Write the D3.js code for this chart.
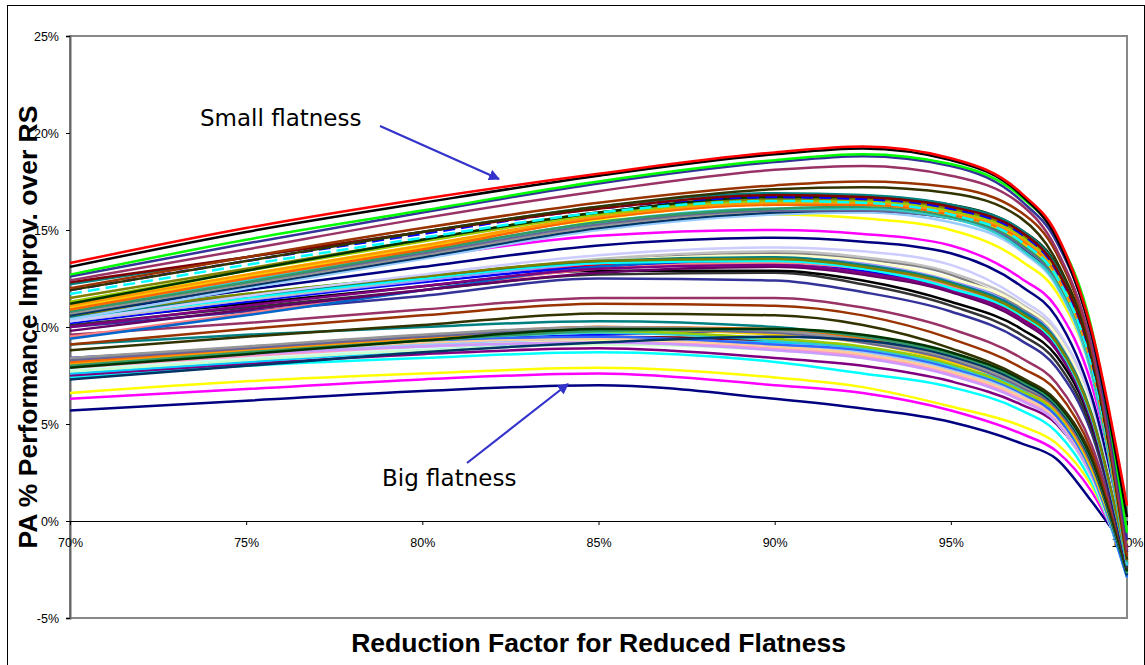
<!DOCTYPE html>
<html>
<head>
<meta charset="utf-8">
<script src="https://cdn.jsdelivr.net/npm/d3@7"></script>
<style>
  body { margin: 0; background: #fff; }
  svg { display: block; }
  .tick text { font-family: "Liberation Sans", Arial, sans-serif; font-size: 12.5px; fill: #000; }
  .axis-title { font-family: "Liberation Sans", Arial, sans-serif; font-size: 26.5px; font-weight: bold; }
  .note { font-family: "DejaVu Sans", Verdana, sans-serif; font-size: 23px; }
</style>
</head>
<body>
<div id="chart"></div>
<script>
// reduction factor (%) at which each curve was sampled
var reduction = [70, 75, 80, 85, 90, 92.5, 95, 97, 98, 99, 100];
var yTicks = [-5, 0, 5, 10, 15, 20, 25];
var xTicks = [70, 75, 80, 85, 90, 95, 100];

// big flatness (bottom curves)
var bottomCurves = [
    [5.7, 6.2, 6.7, 7.0, 6.3, 5.8, 5.1, 4.0, 3.2, 1.0, -1.5],
    [6.3, 6.8, 7.3, 7.6, 7.0, 6.6, 5.7, 4.5, 3.6, 1.5, -2.0],
    [6.6, 7.2, 7.6, 7.9, 7.4, 6.9, 5.9, 4.9, 4.0, 1.8, -2.2],
    [7.4, 8.0, 8.4, 8.7, 8.2, 7.6, 6.9, 5.7, 4.6, 2.0, -2.5]
];
var bottomColors = ["#000080", "#ff00ff", "#ffff00", "#00ffff"];

// lower bundle, about 9-10% around 85
var lowBundle = [
    [7.5, 8.1, 8.6, 8.9, 8.4, 8.0, 7.2, 6.0, 5.0, 2.3, -2.6],
    [8.0, 8.6, 9.1, 9.5, 9.3, 8.9, 7.9, 6.6, 5.4, 2.5, -2.4],
    [9.1, 9.6, 10.0, 10.3, 10.0, 9.4, 8.4, 7.1, 5.9, 2.8, -2.3],
    [8.4, 8.9, 9.3, 9.6, 9.8, 9.5, 8.6, 7.2, 5.8, 2.6, -2.8],
    [7.6, 8.2, 8.8, 9.3, 9.2, 8.9, 8.0, 6.8, 5.5, 2.4, -2.9],
    [7.8, 8.4, 8.9, 9.3, 9.0, 8.6, 7.8, 6.4, 5.2, 2.3, -2.7],
    [7.7, 8.3, 8.8, 9.1, 8.8, 8.4, 7.6, 6.3, 5.1, 2.2, -2.6],
    [7.9, 8.5, 9.0, 9.3, 9.0, 8.6, 7.7, 6.4, 5.2, 2.3, -2.7],
    [8.0, 8.6, 9.1, 9.4, 9.1, 8.7, 7.8, 6.5, 5.3, 2.4, -2.5],
    [7.9, 8.5, 9.0, 9.2, 8.9, 8.5, 7.6, 6.3, 5.2, 2.4, -2.5],
    [8.0, 8.6, 9.0, 9.2, 8.8, 8.4, 7.5, 6.2, 5.1, 2.3, -2.4],
    [8.1, 8.7, 9.2, 9.4, 9.0, 8.6, 7.7, 6.4, 5.3, 2.5, -2.3],
    [8.3, 8.8, 9.3, 9.5, 9.1, 8.8, 7.9, 6.6, 5.4, 2.5, -2.9],
    [8.0, 8.7, 9.3, 9.7, 9.3, 8.9, 8.0, 6.7, 5.6, 2.6, -2.7],
    [8.2, 8.8, 9.4, 9.8, 9.4, 9.0, 8.1, 6.7, 5.6, 2.7, -2.6],
    [8.1, 8.7, 9.3, 9.9, 9.6, 9.2, 8.2, 6.9, 5.7, 2.7, -2.5],
    [8.1, 8.8, 9.4, 10.0, 9.8, 9.3, 8.3, 6.9, 5.7, 2.8, -2.4],
    [8.2, 8.9, 9.5, 10.0, 9.9, 9.4, 8.4, 7.0, 5.8, 2.9, -2.3],
    [8.3, 8.9, 9.5, 9.9, 9.7, 9.2, 8.3, 6.9, 5.8, 2.9, -2.6],
    [8.4, 9.0, 9.6, 10.0, 9.8, 9.3, 8.4, 7.0, 5.9, 3.0, -2.5],
    [7.3, 8.0, 8.7, 9.2, 9.5, 9.3, 8.5, 7.1, 5.9, 3.0, -2.8],
    [8.0, 8.7, 9.3, 9.8, 9.9, 9.5, 8.6, 7.2, 6.0, 3.1, -2.7],
    [7.9, 8.6, 9.3, 9.9, 9.9, 9.6, 8.7, 7.3, 6.1, 3.2, -2.6]
];
var lowColors = ["#800080", "#800000", "#008080", "#0000ff", "#00ccff", "#ccffff",
    "#ccffcc", "#ffff99", "#99ccff", "#ff99cc", "#cc99ff", "#ffcc99", "#3366ff",
    "#33cccc", "#99cc00", "#ffcc00", "#ff9900", "#ff6600", "#666699", "#969696",
    "#003366", "#339966", "#003300"];

// single curves between the bundles
var midSingles = [
    [8.8, 9.5, 10.1, 10.7, 10.6, 10.1, 8.9, 7.4, 6.2, 3.3, -2.5],
    [9.1, 9.9, 10.6, 11.2, 11.1, 10.6, 9.4, 7.9, 6.7, 3.6, -2.3],
    [9.6, 10.2, 10.9, 11.5, 11.5, 11.0, 9.9, 8.4, 7.1, 3.9, -2.2],
    [10.0, 10.8, 11.6, 12.5, 12.4, 11.8, 10.8, 9.3, 7.9, 4.5, -2.4],
    [10.1, 11.0, 11.9, 12.7, 12.8, 12.2, 11.1, 9.6, 8.2, 4.7, -2.4]
];
var midColors = ["#333300", "#993300", "#993366", "#333399", "#333333"];

// middle bundle, about 13% around 85
var midBundle = [
    [10.3, 11.2, 12.1, 12.9, 12.9, 12.4, 11.3, 9.9, 8.5, 5.0, -2.2],
    [10.5, 11.6, 12.5, 13.2, 13.4, 13.0, 12.0, 10.5, 9.0, 5.2, -2.1],
    [10.6, 11.7, 12.6, 13.3, 13.5, 13.1, 12.1, 10.6, 9.1, 5.3, -2.0],
    [10.2, 11.3, 12.3, 13.1, 13.3, 12.9, 11.9, 10.4, 8.9, 5.1, -2.3],
    [9.5, 10.7, 11.9, 13.0, 13.3, 13.0, 12.1, 10.7, 9.2, 5.4, -2.0],
    [9.4, 10.6, 11.9, 13.1, 13.5, 13.2, 12.3, 10.9, 9.4, 5.6, -1.9],
    [9.8, 10.9, 11.9, 12.8, 13.1, 12.7, 11.8, 10.3, 8.8, 5.1, -2.2],
    [10.0, 11.1, 12.1, 13.0, 13.2, 12.8, 11.9, 10.4, 8.9, 5.2, -2.1],
    [10.3, 11.4, 12.4, 13.3, 13.6, 13.3, 12.4, 11.0, 9.5, 5.7, -1.8],
    [10.4, 11.5, 12.5, 13.4, 13.8, 13.5, 12.7, 11.0, 9.6, 5.8, -1.7],
    [10.3, 11.4, 12.5, 13.5, 13.9, 13.6, 12.8, 11.2, 9.7, 5.9, -1.6],
    [10.4, 11.5, 12.6, 13.4, 13.7, 13.4, 12.5, 11.1, 9.6, 5.8, -1.8],
    [10.4, 11.5, 12.5, 13.3, 13.4, 13.0, 12.0, 10.6, 9.1, 5.3, -2.2],
    [10.5, 11.6, 12.6, 13.4, 13.6, 13.2, 12.3, 10.8, 9.3, 5.5, -2.0],
    [10.6, 11.7, 12.6, 13.4, 13.5, 13.1, 12.2, 10.7, 9.2, 5.4, -2.1],
    [10.3, 11.6, 12.7, 13.7, 14.1, 13.9, 13.2, 11.4, 9.9, 6.1, -1.5],
    [10.7, 11.9, 13.1, 14.2, 14.6, 14.4, 13.8, 12.1, 10.5, 6.4, -1.4],
    [10.8, 12.4, 13.6, 14.7, 15.0, 14.8, 14.2, 12.5, 11.0, 7.0, -1.3]
];
var midBundleColors = ["#000000", "#ff0000", "#00ff00", "#0000ff", "#ff8080", "#0066cc",
    "#660066", "#800080", "#9999ff", "#808080", "#c0c0c0", "#ffffcc", "#00ffff",
    "#008080", "#808000", "#ccccff", "#000080", "#ff00ff"];

// upper bundle, about 15-16% around 85
var highBundle = [
    [11.2, 12.7, 14.2, 15.5, 15.8, 15.6, 15.0, 13.4, 11.8, 7.6, -1.2],
    [10.4, 12.0, 13.5, 15.0, 15.8, 15.9, 15.4, 13.9, 12.1, 7.5, -2.2],
    [10.6, 12.1, 13.6, 15.1, 15.9, 16.0, 15.6, 14.1, 12.3, 7.7, -2.2],
    [10.7, 12.2, 13.7, 15.2, 16.0, 16.1, 15.7, 14.2, 12.4, 7.8, -2.1],
    [10.8, 12.3, 13.8, 15.3, 16.0, 16.0, 15.6, 14.2, 12.4, 7.8, -2.2],
    [10.9, 12.4, 13.9, 15.4, 16.1, 16.1, 15.6, 14.0, 12.2, 7.6, -2.3],
    [10.8, 12.3, 13.9, 15.4, 16.1, 16.2, 15.7, 14.3, 12.5, 7.9, -2.1],
    [11.0, 12.6, 14.1, 15.6, 16.3, 16.3, 15.8, 14.4, 12.6, 8.0, -2.0],
    [10.9, 12.5, 14.0, 15.6, 16.3, 16.3, 15.8, 14.5, 12.7, 8.1, -2.0],
    [11.1, 12.7, 14.2, 15.7, 16.4, 16.4, 15.9, 14.6, 12.8, 8.2, -1.9],
    [11.3, 12.9, 14.4, 15.8, 16.5, 16.5, 16.0, 14.7, 12.9, 8.3, -1.8],
    [11.5, 13.0, 14.5, 15.9, 16.6, 16.6, 16.1, 14.8, 13.0, 8.4, -1.7],
    [11.2, 12.9, 14.5, 15.9, 16.7, 16.7, 16.3, 15.0, 13.2, 8.6, -1.6],
    [11.7, 13.2, 14.6, 15.9, 16.5, 16.4, 15.8, 14.4, 12.6, 8.0, -1.7],
    [11.9, 13.4, 14.8, 16.1, 16.7, 16.6, 16.1, 14.8, 12.9, 8.3, -1.6],
    [12.2, 13.6, 14.9, 16.2, 16.9, 16.8, 16.3, 15.0, 13.1, 8.5, -1.4],
    [12.3, 13.6, 14.9, 16.1, 16.8, 16.7, 16.2, 14.9, 13.0, 8.4, -1.5]
];
var highColors = ["#ffff00", "#99ccff", "#003366", "#969696", "#666699", "#33cccc",
    "#339966", "#ffcc00", "#ff6600", "#ff9900", "#99cc00", "#808000", "#003300",
    "#00ffff", "#0000ff", "#008080", "#800000"];
var highDashed = [false, false, false, false, false, false, false, false, false, false,
    false, false, false, true, true, false, false];

// small flatness (top curves)
var topCurves = [
    [11.9, 13.4, 14.9, 16.2, 17.1, 17.2, 16.9, 15.6, 13.4, 8.5, -2.0],
    [12.0, 13.6, 15.1, 16.4, 17.3, 17.5, 17.2, 15.9, 13.8, 8.8, -1.8],
    [12.4, 14.0, 15.6, 17.0, 18.1, 18.3, 17.8, 16.3, 14.0, 9.0, -1.5],
    [12.6, 14.3, 15.9, 17.4, 18.5, 18.8, 18.3, 16.5, 14.4, 9.5, -1.0],
    [12.7, 14.5, 16.0, 17.5, 18.6, 18.9, 18.4, 16.7, 14.7, 9.9, -0.6],
    [13.1, 14.9, 16.4, 17.8, 18.9, 19.2, 18.6, 16.8, 14.6, 9.6, 0.2],
    [13.3, 15.1, 16.6, 17.9, 19.0, 19.3, 18.7, 16.9, 14.8, 9.8, 0.8]
];
var topColors = ["#333300", "#993300", "#993366", "#333399", "#00ff00", "#000000", "#ff0000"];

var svgWidth = 1145;
var svgHeight = 665;
var plot = { left: 70, top: 36, right: 1127, bottom: 618 };

var svg = d3.select("#chart")
    .append("svg")
    .attr("width", svgWidth)
    .attr("height", svgHeight);

// outer chart border
svg.append("rect")
    .attr("x", 7.5)
    .attr("y", 5.5)
    .attr("width", 1137)
    .attr("height", 700)
    .attr("fill", "none")
    .attr("stroke", "#000")
    .attr("stroke-width", 1);

var xScale = d3.scaleLinear()
    .domain([70, 100])
    .range([plot.left, plot.right]);

var yScale = d3.scaleLinear()
    .domain([-5, 25])
    .range([plot.bottom, plot.top]);

// plot area border
svg.append("rect")
    .attr("x", plot.left)
    .attr("y", plot.top)
    .attr("width", plot.right - plot.left)
    .attr("height", plot.bottom - plot.top)
    .attr("fill", "#fff")
    .attr("stroke", "#888")
    .attr("stroke-width", 2);

var leftAxis = d3.axisLeft(yScale)
    .tickValues(yTicks)
    .tickFormat(d => d + "%")
    .tickSize(4)
    .tickPadding(7);

var yAxis = svg.append("g")
    .attr("transform", `translate(${plot.left}, 0)`)
    .call(leftAxis);
yAxis.select(".domain").attr("stroke", "#666").attr("stroke-width", 2);

var bottomAxis = d3.axisBottom(xScale)
    .tickValues(xTicks)
    .tickFormat(d => d + "%")
    .tickSize(4)
    .tickPadding(13);

var xAxis = svg.append("g")
    .attr("transform", `translate(0, ${yScale(0)})`)
    .call(bottomAxis);
xAxis.select(".domain").attr("stroke", "#000").attr("stroke-width", 1);

var line = d3.line()
    .x((d, i) => xScale(reduction[i]))
    .y(d => yScale(d))
    .curve(d3.curveMonotoneX);

function drawGroup(curves, colors, dashed) {
    svg.append("g")
        .selectAll("path")
        .data(curves)
        .enter()
        .append("path")
        .attr("d", d => line(d))
        .attr("fill", "none")
        .attr("stroke", (d, i) => colors[i])
        .attr("stroke-width", 2.5)
        .attr("stroke-dasharray", (d, i) => (dashed && dashed[i]) ? "12,6" : null);
}

drawGroup(bottomCurves, bottomColors);
drawGroup(lowBundle, lowColors);
drawGroup(midSingles, midColors);
drawGroup(midBundle, midBundleColors);
drawGroup(highBundle, highColors, highDashed);
drawGroup(topCurves, topColors);

// axis titles
svg.append("text")
    .attr("class", "axis-title")
    .attr("x", (plot.left + plot.right) / 2)
    .attr("y", 652)
    .attr("text-anchor", "middle")
    .text("Reduction Factor for Reduced Flatness");

svg.append("text")
    .attr("class", "axis-title")
    .attr("transform", `translate(37, ${(plot.top + plot.bottom) / 2}) rotate(-90)`)
    .attr("text-anchor", "middle")
    .text("PA % Performance Improv. over RS");

// annotations with arrows
svg.append("defs")
    .append("marker")
    .attr("id", "head")
    .attr("viewBox", "0 0 10 10")
    .attr("refX", 9)
    .attr("refY", 5)
    .attr("markerWidth", 5)
    .attr("markerHeight", 5)
    .attr("orient", "auto")
    .append("path")
    .attr("d", "M0,0L10,5L0,10z")
    .attr("fill", "#3333cc");

svg.append("text")
    .attr("class", "note")
    .attr("x", 200)
    .attr("y", 126)
    .text("Small flatness");

svg.append("line")
    .attr("x1", 380).attr("y1", 126)
    .attr("x2", 499).attr("y2", 179)
    .attr("stroke", "#3333cc")
    .attr("stroke-width", 2.2)
    .attr("marker-end", "url(#head)");

svg.append("text")
    .attr("class", "note")
    .attr("x", 382)
    .attr("y", 486)
    .text("Big flatness");

svg.append("line")
    .attr("x1", 467).attr("y1", 463)
    .attr("x2", 568).attr("y2", 384)
    .attr("stroke", "#3333cc")
    .attr("stroke-width", 2.2)
    .attr("marker-end", "url(#head)");
</script>
</body>
</html>
